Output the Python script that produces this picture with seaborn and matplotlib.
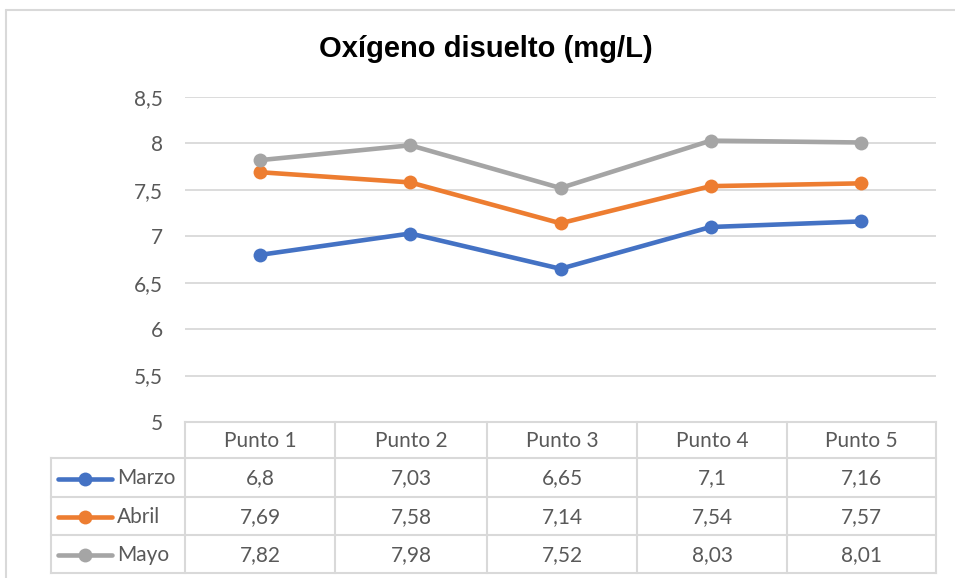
import matplotlib.pyplot as plt
import pandas as pd
import seaborn as sns
from matplotlib.ticker import FuncFormatter

# Data
puntos = ['Punto 1', 'Punto 2', 'Punto 3', 'Punto 4', 'Punto 5']
meses = ['Marzo', 'Abril', 'Mayo']
marzo = [6.8, 7.03, 6.65, 7.1, 7.16]
abril = [7.69, 7.58, 7.14, 7.54, 7.57]
mayo = [7.82, 7.98, 7.52, 8.03, 8.01]
colores = ['#4472C4', '#ED7D31', '#A5A5A5']

df = pd.DataFrame({'punto': puntos * 3,
                   'mes': [m for m in meses for _ in puntos],
                   'valor': marzo + abril + mayo})

sns.set_style('white')
plt.rcParams['font.family'] = ['Lato', 'DejaVu Sans']
gris = '#595959'
linea = '#D9D9D9'
W, H = 955, 578

def coma(v):
    return ('%g' % v).replace('.', ',')

fig = plt.figure(figsize=(W / 100, H / 100), dpi=100)
# overlay in pixel units for the frame and the data table
tax = fig.add_axes([0, 0, 1, 1])
tax.set_xlim(0, W)
tax.set_ylim(H, 0)
tax.axis('off')

ax = fig.add_axes([185 / W, 1 - 422 / H, 751 / W, 325 / H])
sns.lineplot(data=df, x='punto', y='valor', hue='mes', palette=colores,
             marker='o', markersize=10, markeredgewidth=0, linewidth=3.3,
             sort=False, legend=False, ax=ax)

ax.set_xlim(-0.5, 4.5)
ax.set_ylim(5, 8.5)
ax.set_yticks([5, 5.5, 6, 6.5, 7, 7.5, 8, 8.5])
ax.yaxis.set_major_formatter(FuncFormatter(lambda v, p: coma(v)))
ax.tick_params(axis='y', length=0, pad=16, labelsize=15, labelcolor=gris)
ax.set_xticks([])
ax.set_xlabel('')
ax.set_ylabel('')
ax.grid(axis='y', color=linea, linewidth=1.3)
ax.set_axisbelow(True)
ax.patch.set_alpha(0)
for s in ax.spines.values():
    s.set_visible(False)

tax.text(486, 49, 'Oxígeno disuelto (mg/L)', ha='center', va='center',
         fontsize=21, fontweight='bold', color='black',
         family=['Liberation Sans', 'DejaVu Sans'])

# chart frame (top and left edges visible)
tax.plot([6, W], [10, 10], color=linea, lw=1.5)
tax.plot([6, 6], [10, H], color=linea, lw=1.5)

# data table
xs = [51, 185, 335, 487, 637, 787, 936]
ys = [422, 458, 497, 535, 573]
tl = dict(color=linea, lw=1.5, solid_capstyle='projecting')
tax.plot([xs[1], xs[-1]], [ys[0], ys[0]], **tl)
for y in ys[1:]:
    tax.plot([xs[0], xs[-1]], [y, y], **tl)
tax.plot([xs[0], xs[0]], [ys[1], ys[-1]], **tl)
for x in xs[1:]:
    tax.plot([x, x], [ys[0], ys[-1]], **tl)

for j, p in enumerate(puntos):
    tax.text((xs[j + 1] + xs[j + 2]) / 2, (ys[0] + ys[1]) / 2 + 1, p,
             ha='center', va='center', fontsize=15, color=gris)

valores = [marzo, abril, mayo]
for i, (mes, col, fila) in enumerate(zip(meses, colores, valores)):
    yc = (ys[i + 1] + ys[i + 2]) / 2 + 1
    tax.plot([58, 112], [yc, yc], color=col, lw=3.3)
    tax.plot([85], [yc], color=col, marker='o', markersize=10, markeredgewidth=0)
    tax.text(117, yc, mes, ha='left', va='center', fontsize=15, color=gris)
    for j, v in enumerate(fila):
        tax.text((xs[j + 1] + xs[j + 2]) / 2, yc, coma(v),
                 ha='center', va='center', fontsize=15, color=gris)

fig.savefig('out.png')
